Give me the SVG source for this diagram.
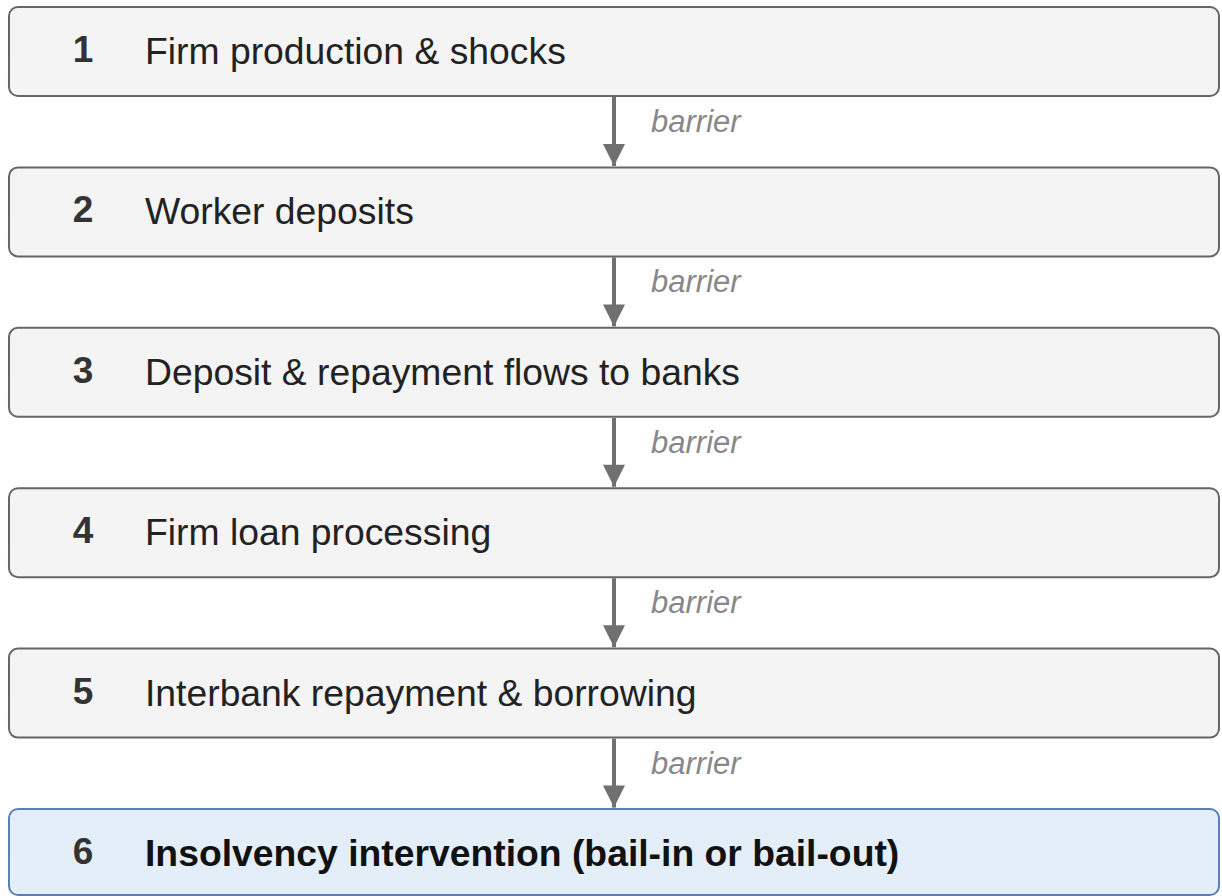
<svg xmlns="http://www.w3.org/2000/svg" width="1222" height="896" viewBox="0 0 1222 896">
<defs>
<style>
.box{fill:#f4f4f4;stroke:#666;stroke-width:2}
.hl{fill:#e3eef9;stroke:#5b80b4;stroke-width:2}
.num{font-family:"Liberation Sans",Arial,sans-serif;font-weight:bold;font-size:37px;fill:#333;text-anchor:middle}
.lbl{font-family:"Liberation Sans",Arial,sans-serif;font-size:37.3px;fill:#222}
.lblb{font-family:"Liberation Sans",Arial,sans-serif;font-size:37.3px;font-weight:bold;fill:#111}
.bar{font-family:"Liberation Sans",Arial,sans-serif;font-style:italic;font-size:31px;fill:#888}
.edge{stroke:#707070;stroke-width:4;fill:none}
</style>
<marker id="ah" viewBox="0 0 10 10" refX="10" refY="5" markerWidth="6" markerHeight="5.5" markerUnits="strokeWidth" orient="auto">
<path d="M0,0 L10,5 L0,10 z" fill="#707070"/>
</marker>
</defs>
<g id="n1"><rect class="box" x="9" y="7" width="1210" height="89" rx="9"/><text class="num" x="83" y="62">1</text><text class="lbl" x="145" y="64">Firm production &amp; shocks</text></g>
<g id="n2"><rect class="box" x="9" y="167.4" width="1210" height="89" rx="9"/><text class="num" x="83" y="222.4">2</text><text class="lbl" x="145" y="224.4">Worker deposits</text></g>
<g id="n3"><rect class="box" x="9" y="327.8" width="1210" height="89" rx="9"/><text class="num" x="83" y="382.8">3</text><text class="lbl" x="145" y="384.8">Deposit &amp; repayment flows to banks</text></g>
<g id="n4"><rect class="box" x="9" y="488.2" width="1210" height="89" rx="9"/><text class="num" x="83" y="543.2">4</text><text class="lbl" x="145" y="545.2">Firm loan processing</text></g>
<g id="n5"><rect class="box" x="9" y="648.6" width="1210" height="89" rx="9"/><text class="num" x="83" y="703.6">5</text><text class="lbl" x="145" y="705.6">Interbank repayment &amp; borrowing</text></g>
<g id="n6"><rect class="hl" x="9" y="809" width="1210" height="86" rx="9"/><text class="num" x="83" y="864">6</text><text class="lblb" x="145" y="866">Insolvency intervention (bail-in or bail-out)</text></g>
<g id="edges">
<line class="edge" x1="614" y1="97" x2="614" y2="166" marker-end="url(#ah)"/>
<line class="edge" x1="614" y1="257.4" x2="614" y2="326.4" marker-end="url(#ah)"/>
<line class="edge" x1="614" y1="417.8" x2="614" y2="486.8" marker-end="url(#ah)"/>
<line class="edge" x1="614" y1="578.2" x2="614" y2="647.2" marker-end="url(#ah)"/>
<line class="edge" x1="614" y1="738.6" x2="614" y2="807.6" marker-end="url(#ah)"/>
<text class="bar" x="651" y="132">barrier</text>
<text class="bar" x="651" y="292.4">barrier</text>
<text class="bar" x="651" y="452.8">barrier</text>
<text class="bar" x="651" y="613.2">barrier</text>
<text class="bar" x="651" y="773.6">barrier</text>
</g>
</svg>
